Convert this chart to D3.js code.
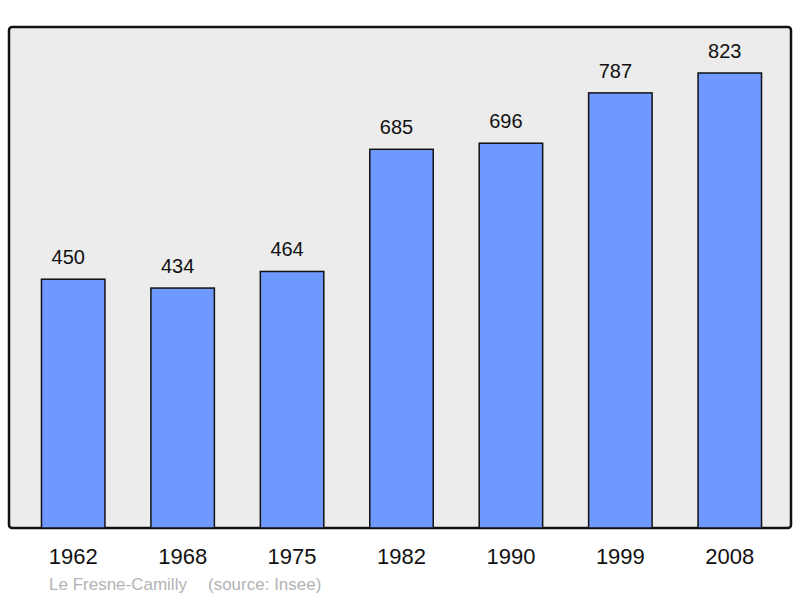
<!DOCTYPE html>
<html>
<head>
<meta charset="utf-8">
<script src="https://cdn.jsdelivr.net/npm/d3@7"></script>
<style>
  body { margin: 0; background: #fff; }
  text { font-family: "Liberation Sans", Arial, sans-serif; }
</style>
</head>
<body>
<script>
// population by census year
var years  = ["1962", "1968", "1975", "1982", "1990", "1999", "2008"];
var values = [450, 434, 464, 685, 696, 787, 823];
var commune = "Le Fresne-Camilly";
var source  = "(source: Insee)";

var W = 800, H = 598;
var svg = d3.select("body").append("svg").attr("width", W).attr("height", H);

// frame
svg.append("rect")
  .attr("x", 9).attr("y", 27).attr("width", 782).attr("height", 501)
  .attr("rx", 3).attr("ry", 3)
  .attr("fill", "#ececec").attr("stroke", "#111").attr("stroke-width", 2.5);

var x = d3.scaleBand().domain(years).range([18.5, 784.5])
  .paddingInner(0.42).paddingOuter(0.21);
var y = d3.scaleLinear().domain([0, 823]).range([528, 73]);

svg.selectAll(".bar").data(values).enter().append("rect")
  .attr("class", "bar")
  .attr("x", function(d, i){ return x(years[i]); })
  .attr("y", function(d){ return y(d); })
  .attr("width", x.bandwidth())
  .attr("height", function(d){ return y(0) - y(d); })
  .attr("fill", "#7099ff").attr("stroke", "#111").attr("stroke-width", 1.5);

// value labels sit a little left of the bar centre, like the original
svg.selectAll(".val").data(values).enter().append("text")
  .attr("class", "val")
  .attr("x", function(d, i){ return x(years[i]) + x.bandwidth() / 2 - 5; })
  .attr("y", function(d){ return y(d) - 15; })
  .attr("text-anchor", "middle").attr("font-size", 20).attr("fill", "#111")
  .text(function(d){ return d; });

// year labels (axis without line/ticks)
var ax = svg.append("g").attr("transform", "translate(0,528)")
  .call(d3.axisBottom(x).tickSize(0).tickPadding(0));
ax.select(".domain").remove();
ax.selectAll("text")
  .attr("y", 36).attr("dy", 0)
  .attr("font-size", 22).attr("fill", "#111")
  .style("font-family", '"Liberation Sans", Arial, sans-serif');

svg.append("text").attr("x", 49).attr("y", 590)
  .attr("font-size", 17).attr("fill", "#b3b3b3").text(commune);
svg.append("text").attr("x", 208).attr("y", 590)
  .attr("font-size", 17).attr("fill", "#b3b3b3").text(source);
</script>
</body>
</html>
